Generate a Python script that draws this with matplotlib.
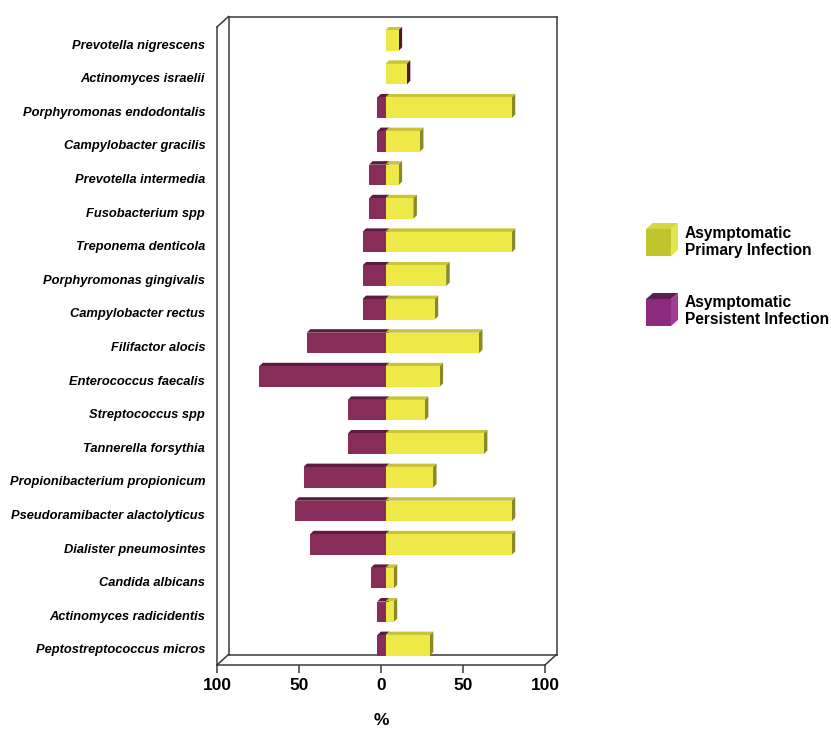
import matplotlib
matplotlib.use("Agg")
import matplotlib.pyplot as plt
from matplotlib.patches import Polygon
from matplotlib.lines import Line2D

plt.rcParams['font.family'] = ['Liberation Sans', 'DejaVu Sans']

# ---- data -------------------------------------------------------------
species = [
    "Prevotella nigrescens",
    "Actinomyces israelii",
    "Porphyromonas endodontalis",
    "Campylobacter gracilis",
    "Prevotella intermedia",
    "Fusobacterium spp",
    "Treponema denticola",
    "Porphyromonas gingivalis",
    "Campylobacter rectus",
    "Filifactor alocis",
    "Enterococcus faecalis",
    "Streptococcus spp",
    "Tannerella forsythia",
    "Propionibacterium propionicum",
    "Pseudoramibacter alactolyticus",
    "Dialister pneumosintes",
    "Candida albicans",
    "Actinomyces radicidentis",
    "Peptostreptococcus micros",
]
primary = [8, 13, 77, 21, 8, 17, 77, 37, 30, 57, 33, 24, 60, 29, 77, 77, 5, 5, 27]
persistent = [0, 0, 5, 5, 10, 10, 14, 14, 14, 48, 77, 23, 23, 50, 55, 46, 9, 5, 5]
tick_values = [-100, -50, 0, 50, 100]
tick_labels = ["100", "50", "0", "50", "100"]
series_names = ["Asymptomatic\nPrimary Infection", "Asymptomatic\nPersistent Infection"]

# ---- colours ----------------------------------------------------------
YEL_FRONT, YEL_TOP, YEL_SIDE = "#EEE946", "#C9C437", "#8A8926"
PUR_FRONT, PUR_TOP, PUR_SIDE = "#882D5A", "#5E1B40", "#4A1828"
FRAME = "#3a3a3a"

W, H, DPI = 831, 731, 100
fig = plt.figure(figsize=(W / DPI, H / DPI), dpi=DPI)

AX_L, AX_R, AX_T, AX_B = 217, 545, 27, 665      # axes box in pixels
ax = fig.add_axes([AX_L / W, 1 - AX_B / H, (AX_R - AX_L) / W, (AX_B - AX_T) / H])
YLIM = (18.48, -0.506)
ax.set_xlim(-100, 100)
ax.set_ylim(*YLIM)

px_x = (AX_R - AX_L) / 200.0
px_y = (AX_B - AX_T) / (YLIM[0] - YLIM[1])


def ox(px):
    return px / px_x


def oy(px):
    return -px / px_y  # upward shift expressed in rows


# ---- 3D frame ---------------------------------------------------------
DX, DY = 11.5, 10.5
top, bot = YLIM[1], YLIM[0]
bx, by = ox(DX), oy(DY)
segments = [
    ((-100, top), (-100, bot)),
    ((-100 + bx, top + by), (-100 + bx, bot + by)),
    ((-100, top), (-100 + bx, top + by)),
    ((-100 + bx, top + by), (100 + bx, top + by)),
    ((100 + bx, top + by), (100 + bx, bot + by)),
    ((-100 + bx, bot + by), (100 + bx, bot + by)),
    ((-100, bot), (100, bot)),
    ((-100, bot), (-100 + bx, bot + by)),
    ((100, bot), (100 + bx, bot + by)),
]
for (x0, y0), (x1, y1) in segments:
    ax.add_line(Line2D([x0, x1], [y0, y1], color=FRAME, lw=1.1,
                       clip_on=False, solid_capstyle='projecting', zorder=1))

# ---- bars -------------------------------------------------------------
BAR_H = 20.5 / px_y
FX, FY = ox(4.5), oy(3.5)
DDX, DDY = ox(3.5), oy(3.5)
rows = list(range(len(species)))
yc = [r + FY for r in rows]


def faces(x0, x1, y, top_c, side_c, z):
    yt = y - BAR_H / 2
    yb = y + BAR_H / 2
    a0, a1 = x0 + FX, x1 + FX
    ax.add_patch(Polygon([(a0, yt), (a1, yt), (a1 + DDX, yt + DDY), (a0 + DDX, yt + DDY)],
                         closed=True, fc=top_c, ec='none', zorder=z))
    ax.add_patch(Polygon([(a1, yt), (a1 + DDX, yt + DDY), (a1 + DDX, yb + DDY), (a1, yb)],
                         closed=True, fc=side_c, ec='none', zorder=z))


for r, p, q in zip(rows, primary, persistent):
    if q > 0:
        faces(-q, 0, yc[r], PUR_TOP, PUR_SIDE, 2)
ax.barh(yc, [-q for q in persistent], left=FX, height=BAR_H,
        color=PUR_FRONT, zorder=3, linewidth=0)
for r, p, q in zip(rows, primary, persistent):
    faces(0, p, yc[r], YEL_TOP, YEL_SIDE if q > 0 else PUR_SIDE, 4)
ax.barh(yc, primary, left=FX, height=BAR_H, color=YEL_FRONT, zorder=5, linewidth=0)

# ---- axes, ticks, labels ---------------------------------------------
for s in ax.spines.values():
    s.set_visible(False)
ax.set_yticks(rows)
ax.set_yticklabels(species, fontsize=9.3, fontweight='bold', fontstyle='italic')
ax.tick_params(axis='y', length=0, pad=8.5)
ax.set_xticks(tick_values)
ax.set_xticklabels(tick_labels, fontsize=12.5, fontweight='bold')
ax.tick_params(axis='x', length=6, width=1.1, color=FRAME, pad=3)
ax.set_xlabel("%", fontsize=12.5, fontweight='bold', labelpad=15)
ax.patch.set_alpha(0)

# ---- legend -----------------------------------------------------------
def fp(x, y):
    return (x / W, 1 - y / H)


cube_cols = [("#C0C42D", "#D5D73F", "#E3E64C"), ("#8C2B7E", "#5C1D55", "#A33C96")]
cube_tops = [229, 299]
text_y = [242, 311]
for (fc, tc, sc), cy, ty, name in zip(cube_cols, cube_tops, text_y, series_names):
    x0, x1, y0, y1, d, e = 646, 671, cy, cy + 27, 7, 6
    fig.patches.append(Polygon([fp(x0, y0), fp(x1, y0), fp(x1 + d, y0 - e), fp(x0 + d, y0 - e)],
                               closed=True, fc=tc, ec='none', transform=fig.transFigure))
    fig.patches.append(Polygon([fp(x1, y0), fp(x1 + d, y0 - e), fp(x1 + d, y1 - e), fp(x1, y1)],
                               closed=True, fc=sc, ec='none', transform=fig.transFigure))
    fig.patches.append(Polygon([fp(x0, y0), fp(x1, y0), fp(x1, y1), fp(x0, y1)],
                               closed=True, fc=fc, ec='none', transform=fig.transFigure))
    fig.text(685 / W, 1 - ty / H, name, fontsize=11.2, fontweight='bold',
             ha='left', va='center', linespacing=1.2)

fig.savefig("out.png", dpi=DPI)
